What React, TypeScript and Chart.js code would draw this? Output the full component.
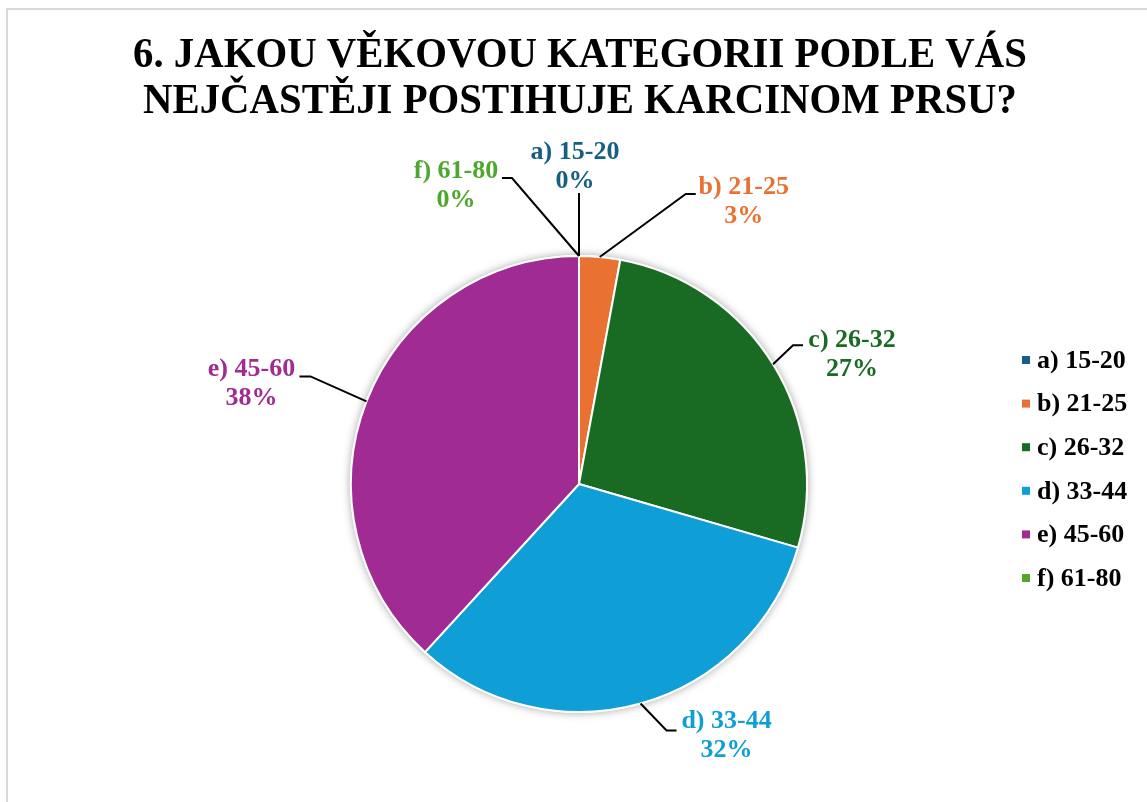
import React, { useEffect, useRef } from "react";
import { Chart, registerables } from "chart.js";

Chart.register(...registerables);

const TITLE_LINES = ["6. JAKOU VĚKOVOU KATEGORII PODLE VÁS", "NEJČASTĚJI POSTIHUJE KARCINOM PRSU?"];
const CATEGORIES = ["a) 15-20", "b) 21-25", "c) 26-32", "d) 33-44", "e) 45-60", "f) 61-80"];
const VALUES = [0, 2.9, 26.6, 32.3, 38.2, 0];
const COLORS = ["#156082", "#E97132", "#196B24", "#0F9ED5", "#A02B93", "#4EA72E"];

// label placement relative to each slice's outer mid-point (elbow offset, tail length, text offset)
const LABEL_LAYOUT = [
  { ex: 0, ey: -63, tail: 0, tx: -4, ty: -41 },
  { ex: 86, ey: -63, tail: 10, tx: 48, ty: -7 },
  { ex: 20, ey: -19, tail: 10, tx: 49, ty: -5 },
  { ex: 26, ey: 27, tail: 10, tx: 50, ty: -9 },
  { ex: -56, ey: -25, tail: -11, tx: -48, ty: -7 },
  { ex: -67, ey: -78, tail: -10, tx: -46, ty: -7 },
];

const SERIF = "'Liberation Serif', 'Times New Roman', serif";

const decorPlugin = {
  id: "decor",
  beforeDraw(chart: any) {
    const { ctx, width, height } = chart;
    ctx.save();
    ctx.fillStyle = "#ffffff";
    ctx.fillRect(0, 0, width, height);
    ctx.fillStyle = "#d9d9d9";
    ctx.fillRect(6, 8, width - 6, 2);
    ctx.fillRect(6, 8, 2, height - 8);
    // title
    ctx.fillStyle = "#000000";
    ctx.font = `bold 40px ${SERIF}`;
    ctx.textAlign = "center";
    ctx.textBaseline = "alphabetic";
    ctx.save();
    ctx.translate(580, 0);
    ctx.scale(1.02, 1.06);
    ctx.fillText(TITLE_LINES[0], 0, 67 / 1.06);
    ctx.fillText(TITLE_LINES[1], 0, 113 / 1.06);
    ctx.restore();
    // legend
    ctx.font = `bold 26px ${SERIF}`;
    ctx.textAlign = "left";
    ctx.textBaseline = "middle";
    CATEGORIES.forEach((c, i) => {
      const y = 360 + i * 43.6;
      ctx.fillStyle = COLORS[i];
      ctx.fillRect(1022, y - 4, 8, 8);
      ctx.fillStyle = "#000000";
      ctx.fillText(c, 1037, y + 1);
    });
    ctx.restore();
  },
  beforeDatasetsDraw(chart: any) {
    const { ctx } = chart;
    const arc = chart.getDatasetMeta(0).data[0];
    if (!arc) return;
    ctx.save();
    ctx.shadowColor = "rgba(0,0,0,0.35)";
    ctx.shadowBlur = 9;
    ctx.fillStyle = "#ffffff";
    ctx.beginPath();
    ctx.arc(arc.x, arc.y, arc.outerRadius + 1, 0, Math.PI * 2);
    ctx.fill();
    ctx.restore();
  },
  afterDatasetsDraw(chart: any) {
    const { ctx } = chart;
    const meta = chart.getDatasetMeta(0);
    const total = VALUES.reduce((a, b) => a + b, 0);
    ctx.save();
    meta.data.forEach((el: any, i: number) => {
      const mid = (el.startAngle + el.endAngle) / 2;
      const r = el.outerRadius;
      const ax = el.x + Math.cos(mid) * r;
      const ay = el.y + Math.sin(mid) * r;
      const L = LABEL_LAYOUT[i];
      const bx = ax + L.ex;
      const by = ay + L.ey;
      const cx = bx + L.tail;
      ctx.strokeStyle = "#000000";
      ctx.lineWidth = 2;
      ctx.beginPath();
      ctx.moveTo(ax, ay);
      ctx.lineTo(bx, by);
      ctx.lineTo(cx, by);
      ctx.stroke();
      const tx = cx + L.tx;
      const ty = by + L.ty;
      ctx.fillStyle = COLORS[i];
      ctx.font = `bold 26px ${SERIF}`;
      ctx.textAlign = "center";
      ctx.textBaseline = "middle";
      ctx.fillText(CATEGORIES[i], tx, ty);
      ctx.fillText(`${Math.round((VALUES[i] / total) * 100)}%`, tx, ty + 29);
    });
    ctx.restore();
  },
};

export default function App() {
  const ref = useRef<HTMLCanvasElement | null>(null);
  useEffect(() => {
    if (!ref.current) return;
    const chart = new Chart(ref.current, {
      type: "pie",
      data: {
        labels: CATEGORIES,
        datasets: [
          {
            data: VALUES,
            backgroundColor: COLORS,
            borderColor: "#ffffff",
            borderWidth: 2,
          },
        ],
      },
      options: {
        responsive: false,
        animation: false,
        devicePixelRatio: 1,
        layout: { padding: { left: 350, right: 339, top: 255, bottom: 89 } },
        plugins: {
          legend: { display: false },
          title: { display: false },
          tooltip: { enabled: false },
        },
        events: [],
      },
      plugins: [decorPlugin],
    });
    return () => chart.destroy();
  }, []);
  return (
    <div style={{ position: "fixed", left: 0, top: 0, width: 1147, height: 802, overflow: "hidden" }}>
      <canvas ref={ref} width={1147} height={802} style={{ width: 1147, height: 802, display: "block" }} />
    </div>
  );
}
